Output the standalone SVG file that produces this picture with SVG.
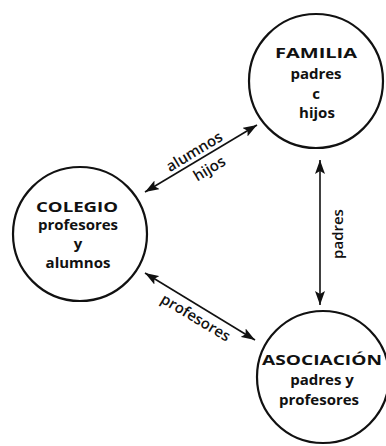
<svg xmlns="http://www.w3.org/2000/svg" width="386" height="446" viewBox="0 0 386 446">
  <style>
    .node circle { fill: none; stroke: #111; stroke-width: 2.2; }
    text { font-family: "Open Sans", "Liberation Sans", sans-serif; fill: #111; font-weight: 700; text-anchor: middle; }
    .title { font-size: 15px; }
    .body { font-size: 15px; }
    .lbl { font-size: 15px; font-weight: 600; }
    .conn line { stroke: #111; stroke-width: 1.6; fill: none; marker-start: url(#ah); marker-end: url(#ah); }
  </style>
  <defs>
    <marker id="ah" viewBox="0 0 14 10" refX="14" refY="5" markerWidth="14" markerHeight="10" markerUnits="userSpaceOnUse" orient="auto-start-reverse">
      <path d="M0,0 L14,5 L0,10 L3,5 z" fill="#111"/>
    </marker>
  </defs>
  <rect width="386" height="446" fill="#fff"/>

  <g id="familia" class="node">
    <circle cx="316" cy="81" r="67"/>
    <text class="title" x="316" y="58" textLength="82" lengthAdjust="spacingAndGlyphs">FAMILIA</text>
    <text class="body" x="316" y="79">padres</text>
    <text class="body" x="316" y="99">c</text>
    <text class="body" x="317" y="118">hijos</text>
  </g>

  <g id="colegio" class="node">
    <circle cx="80" cy="234" r="67"/>
    <text class="title" x="77" y="212" textLength="82" lengthAdjust="spacingAndGlyphs">COLEGIO</text>
    <text class="body" x="78" y="230">profesores</text>
    <text class="body" x="78" y="249">y</text>
    <text class="body" x="78" y="268">alumnos</text>
  </g>

  <g id="asociacion" class="node">
    <circle cx="323" cy="377" r="66"/>
    <text class="title" x="322" y="365" textLength="120" lengthAdjust="spacingAndGlyphs">ASOCIACIÓN</text>
    <text class="body" x="322" y="385">padres y</text>
    <text class="body" x="319" y="405">profesores</text>
  </g>

  <g id="connectors" class="conn">
    <line x1="145" y1="192" x2="257" y2="125"/>
    <line x1="145" y1="273" x2="255" y2="340"/>
    <line x1="320" y1="160" x2="320" y2="305"/>
  </g>

  <g id="labels">
    <text class="lbl" transform="translate(197,156) rotate(-31)">alumnos</text>
    <text class="lbl" transform="translate(212,173) rotate(-31)">hijos</text>
    <text class="lbl" transform="translate(193,322) rotate(31)">profesores</text>
    <text class="lbl" transform="translate(343,234) rotate(-90)">padres</text>
  </g>
</svg>
